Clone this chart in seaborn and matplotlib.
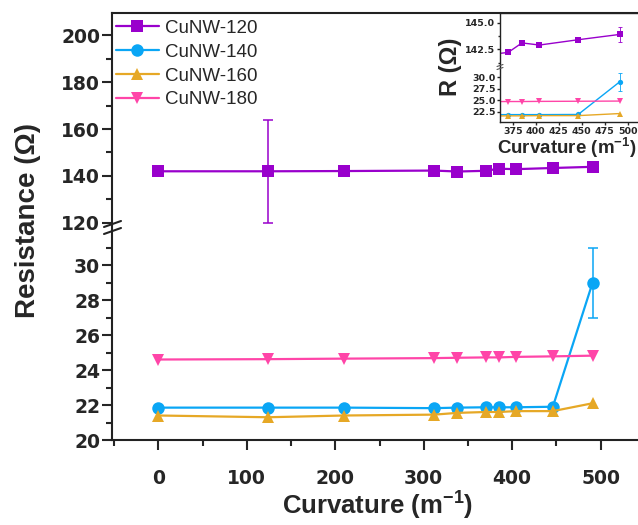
import numpy as np
import pandas as pd
import matplotlib
matplotlib.use("Agg")
import matplotlib.pyplot as plt
from matplotlib.lines import Line2D
from matplotlib.ticker import FixedLocator, FormatStrFormatter
import seaborn as sns

# ---------------- data ----------------
curvature = [0, 124, 210, 312, 338, 370, 385, 404, 446, 491]
series_names = ["CuNW-120", "CuNW-140", "CuNW-160", "CuNW-180"]
r120 = [142.0, 142.0, 142.1, 142.3, 141.9, 142.2, 143.1, 142.9, 143.4, 143.9]
e120 = [0, 22.0, 0, 0, 0, 0, 0, 0, 0, 0.7]
r140 = [21.85, 21.85, 21.85, 21.82, 21.85, 21.87, 21.87, 21.87, 21.9, 29.0]
e140 = [0, 0, 0, 0, 0, 0, 0, 0, 0, 2.0]
r160 = [21.4, 21.3, 21.4, 21.45, 21.55, 21.6, 21.6, 21.65, 21.65, 22.1]
e160 = [0.1, 0.35, 0.1, 0.1, 0.1, 0.15, 0.15, 0.3, 0.25, 0.1]
r180 = [24.6, 24.62, 24.65, 24.68, 24.7, 24.72, 24.72, 24.75, 24.78, 24.82]
e180 = [0, 0, 0, 0, 0, 0, 0, 0, 0, 0]

values = [r120, r140, r160, r180]
errors = [e120, e140, e160, e180]
colors = ["#9900CC", "#0AA6F5", "#E6A826", "#FF45A8"]
marker_types = ["s", "o", "^", "v"]

df = pd.DataFrame({
    "Curvature": np.tile(curvature, 4),
    "R": np.concatenate(values),
    "series": np.repeat(series_names, len(curvature)),
})
palette = dict(zip(series_names, colors))
markers = dict(zip(series_names, marker_types))

# ---------------- style ----------------
sns.set_theme(style="ticks")
plt.rcParams["font.family"] = ["Liberation Sans", "DejaVu Sans"]
plt.rcParams["mathtext.fontset"] = "custom"
plt.rcParams["mathtext.bf"] = "Liberation Sans:bold"
plt.rcParams["mathtext.rm"] = "Liberation Sans:bold"
plt.rcParams["mathtext.it"] = "Liberation Sans:bold"
plt.rcParams["axes.edgecolor"] = "#222222"

W, H = 638, 525
fig = plt.figure(figsize=(W / 100, H / 100), dpi=100)


def fx(px):
    return px / W


def fy(py):
    return 1 - py / H


def box(x0, y0, x1, y1):
    return [fx(x0), fy(y1), (x1 - x0) / W, (y1 - y0) / H]


ax_up = fig.add_axes(box(112, 13, 651, 226))
ax_lo = fig.add_axes(box(112, 226, 651, 440))
in_up = fig.add_axes(box(500, 13, 645, 67))
in_lo = fig.add_axes(box(500, 67, 645, 122))
for a in (in_up, in_lo):
    a.set_zorder(5)
    a.set_facecolor("white")


def draw(ax, ms, lw, cap, elw):
    sns.lineplot(data=df, x="Curvature", y="R", hue="series", style="series",
                 palette=palette, markers=markers, dashes=False,
                 markersize=ms, markeredgewidth=0, linewidth=lw,
                 estimator=None, errorbar=None, sort=False, legend=False, ax=ax)
    for vals, errs, c in zip(values, errors, colors):
        x = np.array(curvature, dtype=float)
        y = np.array(vals)
        e = np.array(errs)
        m = e > 0
        if m.any():
            cs = 0 if c == "#E6A826" else cap
            ax.errorbar(x[m], y[m], yerr=e[m], fmt="none", ecolor=c,
                        elinewidth=elw, capsize=cs, capthick=elw, zorder=1)
    ax.set_xlabel("")
    ax.set_ylabel("")


draw(ax_up, 9, 1.6, 3.5, 1.1)
draw(ax_lo, 9, 1.6, 3.5, 1.1)
draw(in_up, 3.8, 1.0, 1.5, 0.6)
draw(in_lo, 3.8, 1.0, 1.5, 0.6)

# main axes
ax_up.set_xlim(-52.5, 557)
ax_lo.set_xlim(-52.5, 557)
ax_up.set_ylim(118.7, 209.4)
ax_lo.set_ylim(20, 32.23)
for a in (ax_up, ax_lo):
    a.spines["right"].set_visible(False)
    for s in a.spines.values():
        s.set_linewidth(1.5)
ax_up.spines["bottom"].set_visible(False)
ax_lo.spines["top"].set_visible(False)
ax_up.tick_params(axis="x", which="both", bottom=False, labelbottom=False)

ax_up.yaxis.set_major_locator(FixedLocator([120, 140, 160, 180, 200]))
ax_up.yaxis.set_minor_locator(FixedLocator([130, 150, 170, 190]))
ax_lo.yaxis.set_major_locator(FixedLocator([20, 22, 24, 26, 28, 30]))
ax_lo.yaxis.set_minor_locator(FixedLocator([21, 23, 25, 27, 29, 31]))
ax_lo.xaxis.set_major_locator(FixedLocator([0, 100, 200, 300, 400, 500]))
ax_lo.xaxis.set_minor_locator(FixedLocator([-50, 50, 150, 250, 350, 450, 550]))
for a in (ax_up, ax_lo):
    a.tick_params(axis="y", which="major", direction="out", length=7, width=1.5, pad=1.5, labelsize=13.5)
    a.tick_params(axis="y", which="minor", direction="out", length=4, width=1.5)
ax_lo.tick_params(axis="x", which="major", direction="out", length=7, width=1.5, pad=14, labelsize=13.5)
ax_lo.tick_params(axis="x", which="minor", direction="out", length=4, width=1.5)
for a in (ax_up, ax_lo):
    for lab in a.get_xticklabels() + a.get_yticklabels():
        lab.set_fontfamily("DejaVu Sans")
        lab.set_fontweight("bold")

# inset axes
for a in (in_up, in_lo):
    a.set_xlim(361.2, 518.5)
    a.spines["right"].set_visible(False)
    for s in a.spines.values():
        s.set_linewidth(1.0)
in_up.set_ylim(140.83, 145.92)
in_lo.set_ylim(20.26, 32.24)
in_up.spines["bottom"].set_visible(False)
in_lo.spines["top"].set_visible(False)
in_up.tick_params(axis="x", which="both", bottom=False, labelbottom=False)
in_up.yaxis.set_major_locator(FixedLocator([142.5, 145.0]))
in_up.yaxis.set_minor_locator(FixedLocator([141.25, 143.75]))
in_lo.yaxis.set_major_locator(FixedLocator([22.5, 25.0, 27.5, 30.0]))
in_lo.xaxis.set_major_locator(FixedLocator([375, 400, 425, 450, 475, 500]))
for a in (in_up, in_lo):
    a.yaxis.set_major_formatter(FormatStrFormatter("%.1f"))
    a.tick_params(axis="y", which="major", direction="out", length=2.5, width=1, pad=0.8, labelsize=6.8)
    a.tick_params(axis="y", which="minor", direction="out", length=1.5, width=1)
in_lo.tick_params(axis="x", which="major", direction="out", length=2.5, width=1, pad=0.8, labelsize=6.8)
for a in (in_up, in_lo):
    for lab in a.get_xticklabels() + a.get_yticklabels():
        lab.set_fontfamily("DejaVu Sans")
        lab.set_fontweight("bold")

# axis break marks
for yc in (224, 231):
    fig.add_artist(Line2D([fx(104), fx(121)], [fy(yc + 3), fy(yc - 3)],
                          transform=fig.transFigure, color="#222222", lw=1.5))
for yc in (65.5, 68.5):
    fig.add_artist(Line2D([fx(497), fx(503)], [fy(yc + 1), fy(yc - 1)],
                          transform=fig.transFigure, color="#555555", lw=0.8, zorder=10))

# labels
fig.text(fx(28), fy(220), "Resistance (\u03a9)", rotation=90, ha="center", va="center",
         fontsize=20, fontweight="bold")
fig.text(fx(378), fy(506), r"Curvature (m$^{\mathbf{-1}}$)", ha="center", va="center",
         fontsize=18.5, fontweight="bold")
fig.text(fx(451), fy(67), "R (\u03a9)", rotation=90, ha="center", va="center",
         fontsize=17, fontweight="bold", zorder=10)
fig.text(fx(567), fy(148), r"Curvature (m$^{\mathbf{-1}}$)", ha="center", va="center",
         fontsize=13.5, fontweight="bold", zorder=10)

# legend
handles = [Line2D([0], [0], color=c, marker=m, markersize=9, markeredgewidth=0, lw=1.6)
           for c, m in zip(colors, marker_types)]
fig.legend(handles, series_names, loc="upper left", bbox_to_anchor=(fx(112), fy(16)),
           frameon=False, fontsize=13.5, handlelength=2.3, handletextpad=0.3,
           labelspacing=0.36, borderpad=0.2, borderaxespad=0)

fig.savefig("out.png", dpi=100)
